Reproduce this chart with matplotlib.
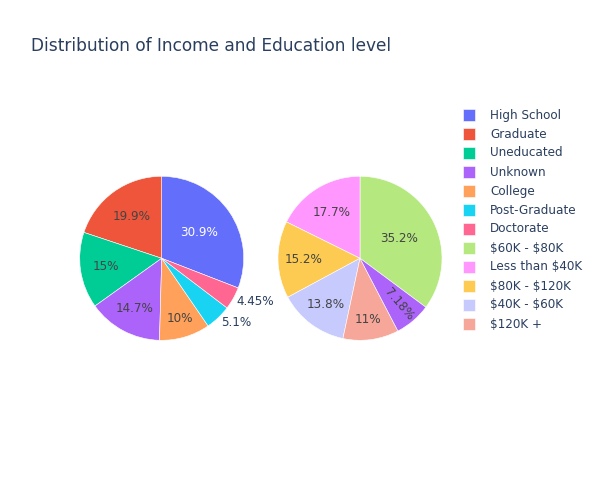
import colorsys
import math
import matplotlib
matplotlib.use('Agg')
import matplotlib.pyplot as plt
from matplotlib.patches import Rectangle
from matplotlib.colors import to_rgb, to_hex

# data (percent of each group, in plotly's sorted order)
edu_labels = ['High School', 'Graduate', 'Uneducated', 'Unknown', 'College',
              'Post-Graduate', 'Doctorate']
edu_values = [30.9, 19.9, 15, 14.7, 10, 5.1, 4.45]

inc_labels = ['$60K - $80K', 'Less than $40K', '$80K - $120K', '$40K - $60K',
              '$120K +', 'Unknown']
inc_values = [35.2, 17.7, 15.2, 13.8, 11, 7.18]

title = 'Distribution of Income and Education level'

# plotly colorway, extended with lighter copies like plotly.js does
base = ['#636efa', '#EF553B', '#00cc96', '#ab63fa', '#FFA15A',
        '#19d3f3', '#FF6692', '#B6E880', '#FF97FF', '#FECB52']


def lighten(c, amt=0.2):
    h, l, s = colorsys.rgb_to_hls(*to_rgb(c))
    return to_hex(colorsys.hls_to_rgb(h, min(1, l + amt), s))


palette = base + [lighten(c) for c in base]

W, H = 600, 500
TXT = '#2a3f5f'
fs = 12 * 0.72  # 12px in points at 100 dpi

plt.rcParams['font.family'] = ['DejaVu Sans']
plt.rcParams['text.parse_math'] = False

fig = plt.figure(figsize=(6, 5), dpi=100)
ax = fig.add_axes([0, 0, 1, 1])
renderer = fig.canvas.get_renderer()

# one colour per label, in order of first appearance
legend_labels = []
for lab in edu_labels + inc_labels:
    if lab not in legend_labels:
        legend_labels.append(lab)
colors = {lab: palette[i] for i, lab in enumerate(legend_labels)}


def contrast(c):
    r, g, b = [v * 255 for v in to_rgb(c)]
    dark = (r * 299 + g * 587 + b * 114) / 1000 < 128
    return 'white' if dark else '#444'


def draw_pie(labels, values, cx, cy, r):
    total = sum(values)
    start = 90 - 360 * values[0] / total
    wedges, _ = ax.pie(values, colors=[colors[l] for l in labels],
                       startangle=start, counterclock=True,
                       center=(cx, cy), radius=r,
                       wedgeprops=dict(edgecolor='white', linewidth=0.4))
    for w, lab, v in zip(wedges, labels, values):
        frac = v / total
        half = math.pi * frac
        mid = math.radians((w.theta1 + w.theta2) / 2)
        txt = '%.3g%%' % v
        t = ax.text(0, 0, txt, fontsize=fs, ha='center', va='center',
                    color=contrast(colors[lab]))
        bb = t.get_window_extent(renderer)
        tw, th = bb.width, max(bb.height, 16)
        r_ins = min(1 / (1 + 1 / math.sin(half)), 0.5)
        if r_ins * r * 2 / math.hypot(tw, th) >= 1:
            rc = 1 - r_ins
            t.set_position((cx + rc * r * math.cos(mid), cy + rc * r * math.sin(mid)))
            continue
        rr = r - 6
        a = tw / th
        q = a + 1 / (2 * math.tan(half))
        s = rr * min(1 / (math.sqrt(q * q + 0.5) + q),
                     1 / (math.sqrt(a * a + 0.5) + a))
        if s * 2 / th >= 1:
            rc = math.cos(s / rr) - a * s / rr
            rot = math.degrees(mid)
            rot = (rot + 180) % 360 - 180
            if rot > 90:
                rot -= 180
            elif rot < -90:
                rot += 180
            t.set_position((cx + rc * r * math.cos(mid), cy + rc * r * math.sin(mid)))
            t.set_rotation(rot)
            t.set_rotation_mode('anchor')
            continue
        # outside
        ro = r + 4
        t.set_color(TXT)
        t.set_ha('left' if math.cos(mid) >= 0 else 'right')
        t.set_position((cx + ro * math.cos(mid), cy + ro * math.sin(mid) - 1.5))


draw_pie(edu_labels, edu_values, 161.7, H - 258.3, 82)
draw_pie(inc_labels, inc_values, 360, H - 258.3, 82)

ax.set_xlim(0, W)
ax.set_ylim(0, H)
ax.set_aspect('auto')
ax.axis('off')

# legend
for i, lab in enumerate(legend_labels):
    y = H - (115 + 19 * i)
    ax.add_patch(Rectangle((463, y - 6), 12, 12, facecolor=colors[lab],
                           edgecolor='white', linewidth=0.4))
    ax.text(490, y, lab, fontsize=fs, color=TXT, ha='left', va='center')

ax.text(31, H - 51, title, fontsize=17 * 0.72, color=TXT,
        ha='left', va='baseline')

fig.savefig('out.png', dpi=100, facecolor='white')
